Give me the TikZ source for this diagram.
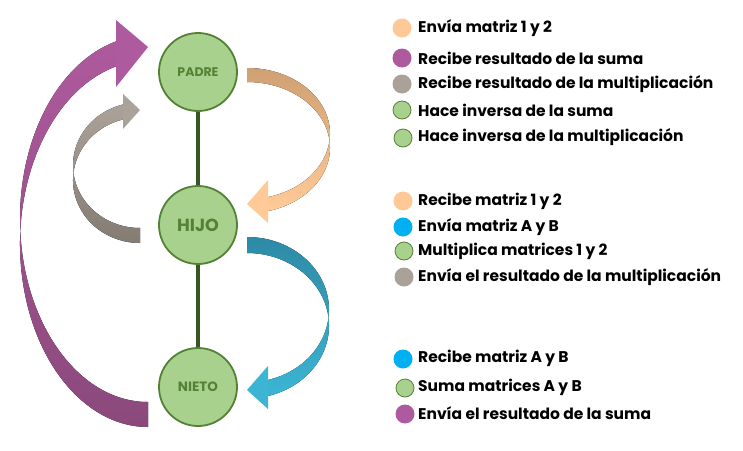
\documentclass[tikz,border=0pt]{standalone}
\usepackage{fontspec}
\setmainfont{Poppins}
\definecolor{nodefill}{HTML}{A9D18E}
\definecolor{nodeline}{HTML}{538135}
\definecolor{nodetext}{HTML}{548235}
\definecolor{linkcol}{HTML}{375623}
\definecolor{orTop}{HTML}{CFA072}
\definecolor{orBot}{HTML}{FFCA97}
\definecolor{blTop}{HTML}{2E8AA6}
\definecolor{blBot}{HTML}{3BB5D3}
\definecolor{grTop}{HTML}{ABA399}
\definecolor{grBot}{HTML}{847B73}
\definecolor{puTop}{HTML}{AE5A9E}
\definecolor{puBot}{HTML}{8B497B}
\definecolor{legPeach}{HTML}{FFC997}
\definecolor{legPurple}{HTML}{AE5A9E}
\definecolor{legGray}{HTML}{AAA198}
\definecolor{legBlue}{HTML}{00B0F0}
\begin{document}
\begin{tikzpicture}[x=1pt,y=-1pt,
  proc/.style={circle, draw=nodeline, line width=1.8pt, fill=nodefill, minimum size=78pt, inner sep=0pt, text=nodetext, font=\bfseries},
  link/.style={draw=linkcol, line width=4pt},
  dot/.style={circle, minimum size=19pt, inner sep=0pt},
  gdot/.style={dot, fill=nodefill, draw=nodeline, line width=0.8pt, minimum size=18pt},
  leg/.style={anchor=west, inner sep=0pt, font=\fontsize{15.5}{17}\selectfont\bfseries}
]
\useasboundingbox (0,0) rectangle (743,450);

% curved arrows
% orange PADRE -> HIJO
\fill[top color=orTop, bottom color=orBot] (247,68) arc[start angle=-90,end angle=75.34,x radius=83,y radius=65.6] -- ++(0,14) arc[start angle=75.34,end angle=-90,x radius=83,y radius=65.6] -- cycle;
\fill[orBot] (268,180) -- (247,204) -- (268,223) -- cycle;
% blue HIJO -> NIETO
\fill[top color=blTop, bottom color=blBot] (247,237) arc[start angle=-90,end angle=75.16,x radius=82,y radius=72.7] -- ++(0,16) arc[start angle=75.16,end angle=-90,x radius=82,y radius=72.7] -- cycle;
\fill[blBot] (268,366) -- (247,390) -- (268,409) -- cycle;
% gray HIJO -> PADRE
\fill[top color=grTop, bottom color=grBot] (140,228) arc[start angle=90,end angle=255.3,x radius=67,y radius=62.8] -- ++(0,15) arc[start angle=255.3,end angle=90,x radius=67,y radius=62.8] -- cycle;
\fill[grTop] (123,94) -- (140,110) -- (123,129) -- cycle;
% purple NIETO -> PADRE
\fill[top color=puTop, bottom color=puBot] (148,402) arc[start angle=90,end angle=255.5,x radius=128,y radius=183.2] -- ++(0,25) arc[start angle=255.5,end angle=90,x radius=128,y radius=183.2] -- cycle;
\fill[puTop] (116,20) -- (148,47) -- (116,87) -- cycle;

% process nodes
\node[proc, font=\fontsize{12.5}{14}\selectfont\bfseries] (p) at (198,72) {PADRE};
\node[proc, font=\fontsize{17.5}{20}\selectfont\bfseries] (h) at (198,225) {HIJO};
\node[proc, font=\fontsize{13.5}{15}\selectfont\bfseries] (n) at (198,387) {NIETO};
\draw[link] (p) -- (h);
\draw[link] (h) -- (n);

% legend PADRE
\node[dot, fill=legPeach] (d1) at (402,28) {};
\node[leg] (t1) at (418,28) {Envía matriz 1 y 2};
\node[dot, fill=legPurple] (d2) at (402,58) {};
\node[leg] (t2) at (418,58) {Recibe resultado de la suma};
\node[dot, fill=legGray] (d3) at (402,84) {};
\node[leg] (t3) at (418,84) {Recibe resultado de la multiplicación};
\node[gdot] (d4) at (402,110) {};
\node[leg] (t4) at (418,110) {Hace inversa de la suma};
\node[gdot] (d5) at (403,138) {};
\node[leg] (t5) at (418,137) {Hace inversa de la multiplicación};
% legend HIJO
\node[dot, fill=legPeach] (d6) at (403,201) {};
\node[leg] (t6) at (418,201) {Recibe matriz 1 y 2};
\node[dot, fill=legBlue] (d7) at (403,227) {};
\node[leg] (t7) at (418,227) {Envía matriz A y B};
\node[gdot] (d8) at (404,251) {};
\node[leg] (t8) at (418,251) {Multiplica matrices 1 y 2};
\node[dot, fill=legGray] (d9) at (404,277) {};
\node[leg] (t9) at (418,277) {Envía el resultado de la multiplicación};
% legend NIETO
\node[dot, fill=legBlue] (d10) at (403,359) {};
\node[leg] (t10) at (418,358) {Recibe matriz A y B};
\node[gdot] (d11) at (405,388) {};
\node[leg] (t11) at (418,387) {Suma matrices A y B};
\node[dot, fill=legPurple] (d12) at (405,414) {};
\node[leg] (t12) at (418,413) {Envía el resultado de la suma};
\end{tikzpicture}
\end{document}
